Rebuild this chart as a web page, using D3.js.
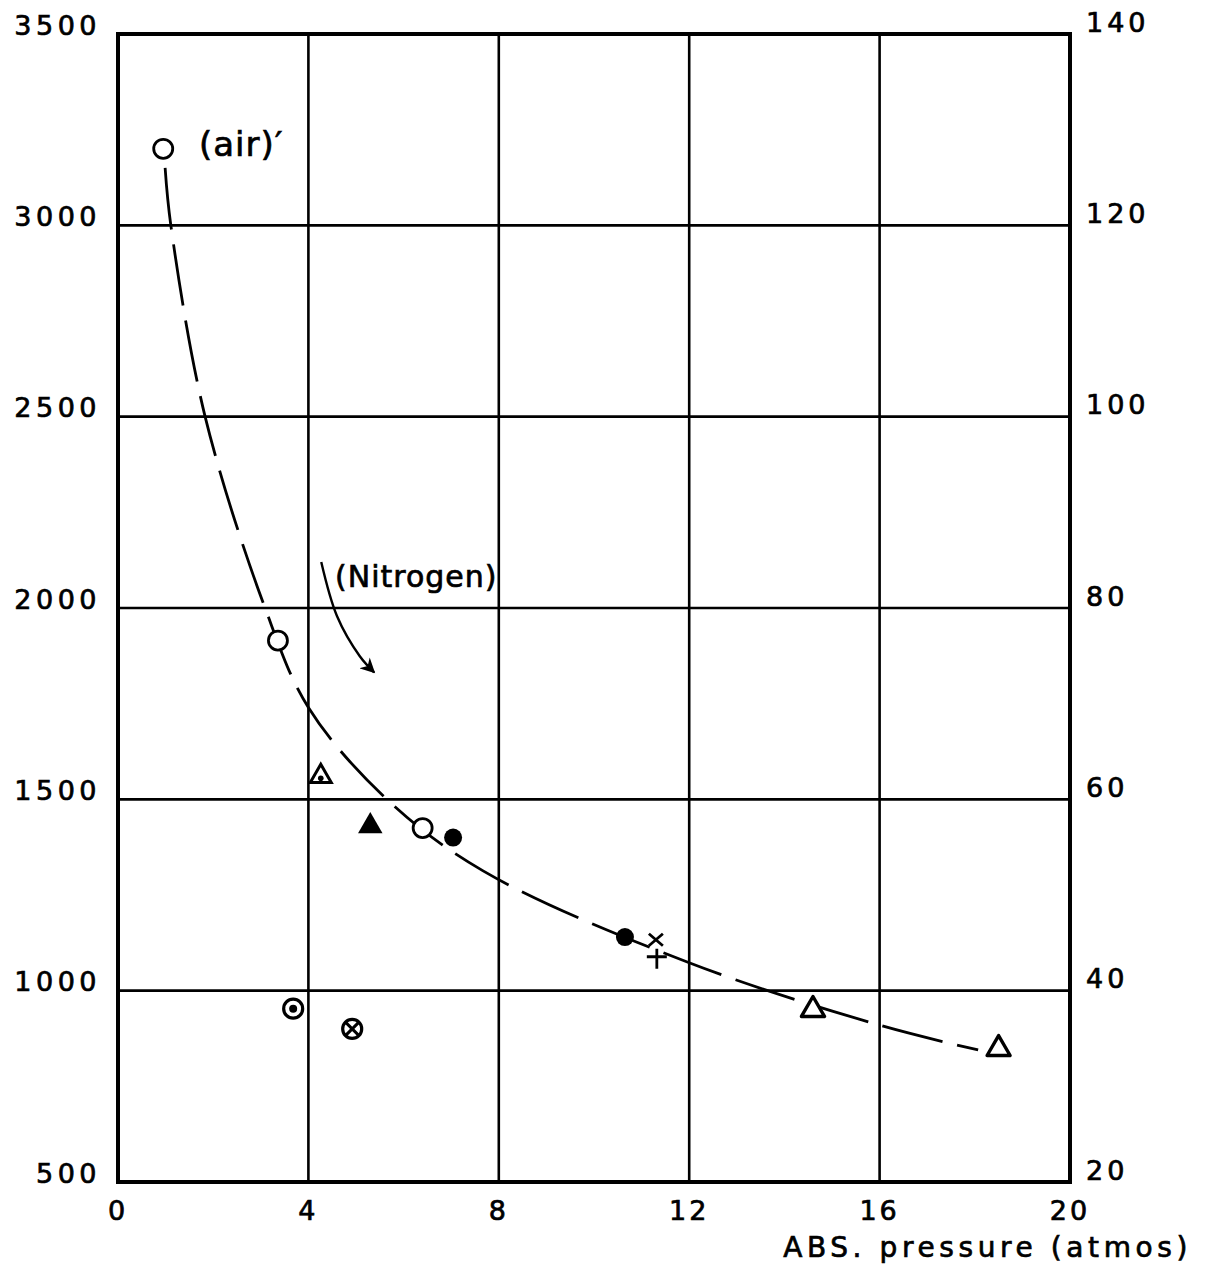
<!DOCTYPE html>
<html>
<head>
<meta charset="utf-8">
<script src="https://cdn.jsdelivr.net/npm/d3@7"></script>
<style>
  body { margin: 0; background: #fff; }
  text { font-family: "DejaVu Sans", sans-serif; fill: #000; stroke: #000; stroke-width: 0.7; }
</style>
</head>
<body>
<div id="chart"></div>
<script>
// data
const leftTicks = [500, 1000, 1500, 2000, 2500, 3000, 3500];
const rightTicks = [20, 40, 60, 80, 100, 120, 140];
const xTicks = [0, 4, 8, 12, 16, 20];

// air, open circles
const openCircleX = [0.95, 3.36, 6.4];
const openCircleY = [3200, 1915, 1425];
const filledCircleX = [7.04, 10.65];
const filledCircleY = [1400, 1140];
const openTriangleX = [14.6, 18.5];
const openTriangleY = [950, 848];
const filledTriangleX = [5.3];
const filledTriangleY = [1430];
const dotTriangleX = [4.26];
const dotTriangleY = [1560];
const crossX = [11.3];
const crossY = [1133];
const plusX = [11.32];
const plusY = [1086];
const dotCircleX = [3.68];
const dotCircleY = [953];
const crossCircleX = [4.92];
const crossCircleY = [900];

// dashed fitted curve
const curveX = [0.99, 1.11, 1.83, 3.09, 4.0, 5.65, 7.67, 12, 16, 18.07];
const curveY = [3150, 3000, 2500, 2000, 1740, 1500, 1313, 1073, 910, 845];

// nitrogen arrow
const arrowX = [4.27, 4.6, 5.08, 5.38];
const arrowY = [2120, 1979, 1874, 1832];

const width = 1205, height = 1268;
const margin = { top: 34, right: 135, bottom: 86, left: 118 };

const svg = d3.select("#chart").append("svg")
  .attr("width", width)
  .attr("height", height);

const x = d3.scaleLinear().domain([0, 20]).range([margin.left, width - margin.right]);
const y = d3.scaleLinear().domain([500, 3500]).range([height - margin.bottom, margin.top]);
const y2 = d3.scaleLinear().domain([20, 140]).range([height - margin.bottom, margin.top]);

// grid
svg.append("g").selectAll("line").data(xTicks.slice(1, -1)).enter().append("line")
  .attr("x1", d => x(d)).attr("x2", d => x(d))
  .attr("y1", y(3500)).attr("y2", y(500))
  .attr("stroke", "#000").attr("stroke-width", 2.6);
svg.append("g").selectAll("line").data(leftTicks.slice(1, -1)).enter().append("line")
  .attr("x1", x(0)).attr("x2", x(20))
  .attr("y1", d => y(d)).attr("y2", d => y(d))
  .attr("stroke", "#000").attr("stroke-width", 2.6);

// frame
svg.append("rect")
  .attr("x", x(0)).attr("y", y(3500))
  .attr("width", x(20) - x(0)).attr("height", y(500) - y(3500))
  .attr("fill", "none").attr("stroke", "#000").attr("stroke-width", 4);

// axis labels
svg.append("g").selectAll("text").data(leftTicks).enter().append("text")
  .attr("x", 101).attr("y", d => y(d) - 7)
  .attr("text-anchor", "end").attr("dominant-baseline", "middle")
  .attr("font-size", 27).attr("letter-spacing", 4.5)
  .text(d => d);
svg.append("g").selectAll("text").data(rightTicks).enter().append("text")
  .attr("x", 1086).attr("y", d => y2(d) - 10)
  .attr("dominant-baseline", "middle")
  .attr("font-size", 27).attr("letter-spacing", 4)
  .text(d => d);
svg.append("g").selectAll("text").data(xTicks).enter().append("text")
  .attr("x", d => x(d)).attr("y", 1212)
  .attr("text-anchor", "middle").attr("dominant-baseline", "middle")
  .attr("font-size", 27).attr("letter-spacing", 3)
  .text(d => d);
svg.append("text")
  .attr("x", 1192).attr("y", 1249)
  .attr("text-anchor", "end").attr("dominant-baseline", "middle")
  .attr("font-size", 28).attr("letter-spacing", 4.6)
  .text("ABS. pressure (atmos)");

// dashed curve
const line = d3.line().curve(d3.curveCatmullRom.alpha(0.5)).x(d => x(d[0])).y(d => y(d[1]));
svg.append("path")
  .datum(d3.zip(curveX, curveY))
  .attr("d", line)
  .attr("fill", "none").attr("stroke", "#000").attr("stroke-width", 2.8)
  .attr("stroke-dasharray", "62 15");

// annotations
svg.append("text")
  .attr("x", 199).attr("y", 146)
  .attr("dominant-baseline", "middle")
  .attr("font-size", 34).attr("letter-spacing", 1)
  .text("(air)\u2032");
svg.append("text")
  .attr("x", 335).attr("y", 578)
  .attr("dominant-baseline", "middle")
  .attr("font-size", 30).attr("letter-spacing", 1)
  .text("(Nitrogen)");

svg.append("defs").append("marker")
  .attr("id", "head").attr("viewBox", "0 0 10 10")
  .attr("refX", 9).attr("refY", 5)
  .attr("markerWidth", 22).attr("markerHeight", 15)
  .attr("markerUnits", "userSpaceOnUse")
  .attr("orient", "auto")
  .append("path").attr("d", "M0,0L10,5L0,10L3,5Z").attr("fill", "#000");
svg.append("path")
  .datum(d3.zip(arrowX, arrowY))
  .attr("d", d3.line().curve(d3.curveCatmullRom).x(d => x(d[0])).y(d => y(d[1])))
  .attr("fill", "none").attr("stroke", "#000").attr("stroke-width", 2.4)
  .attr("marker-end", "url(#head)");

// markers
const pts = (xs, ys) => d3.zip(xs, ys);

svg.append("g").selectAll("circle").data(pts(openCircleX, openCircleY)).enter().append("circle")
  .attr("cx", d => x(d[0])).attr("cy", d => y(d[1])).attr("r", 9.5)
  .attr("fill", "#fff").attr("stroke", "#000").attr("stroke-width", 2.8);

svg.append("g").selectAll("circle").data(pts(filledCircleX, filledCircleY)).enter().append("circle")
  .attr("cx", d => x(d[0])).attr("cy", d => y(d[1])).attr("r", 9)
  .attr("fill", "#000");

svg.append("g").selectAll("path").data(pts(openTriangleX, openTriangleY)).enter().append("path")
  .attr("transform", d => `translate(${x(d[0])},${y(d[1])})`)
  .attr("d", d3.symbol().type(d3.symbolTriangle).size(230))
  .attr("fill", "#fff").attr("stroke", "#000").attr("stroke-width", 3.4)
  .attr("stroke-linejoin", "round");

svg.append("g").selectAll("path").data(pts(filledTriangleX, filledTriangleY)).enter().append("path")
  .attr("transform", d => `translate(${x(d[0])},${y(d[1])})`)
  .attr("d", d3.symbol().type(d3.symbolTriangle).size(260)).attr("fill", "#000");

const dt = svg.append("g").selectAll("g").data(pts(dotTriangleX, dotTriangleY)).enter().append("g")
  .attr("transform", d => `translate(${x(d[0])},${y(d[1])})`);
dt.append("path").attr("d", d3.symbol().type(d3.symbolTriangle).size(190))
  .attr("fill", "#fff").attr("stroke", "#000").attr("stroke-width", 3);
dt.append("circle").attr("cy", 2).attr("r", 2.8).attr("fill", "#000");

svg.append("g").selectAll("path").data(pts(crossX, crossY)).enter().append("path")
  .attr("transform", d => `translate(${x(d[0])},${y(d[1])})`)
  .attr("d", "M-7,-6L7,6M7,-6L-7,6")
  .attr("stroke", "#000").attr("stroke-width", 2.8);

svg.append("g").selectAll("path").data(pts(plusX, plusY)).enter().append("path")
  .attr("transform", d => `translate(${x(d[0])},${y(d[1])})`)
  .attr("d", "M-10,-1L10,-1M0,-9L0,11")
  .attr("stroke", "#000").attr("stroke-width", 2.8);

const dc = svg.append("g").selectAll("g").data(pts(dotCircleX, dotCircleY)).enter().append("g")
  .attr("transform", d => `translate(${x(d[0])},${y(d[1])})`);
dc.append("circle").attr("r", 9.5).attr("fill", "#fff").attr("stroke", "#000").attr("stroke-width", 3.2);
dc.append("circle").attr("r", 4).attr("fill", "#000");

const cc = svg.append("g").selectAll("g").data(pts(crossCircleX, crossCircleY)).enter().append("g")
  .attr("transform", d => `translate(${x(d[0])},${y(d[1])})`);
cc.append("circle").attr("r", 9.5).attr("fill", "#fff").attr("stroke", "#000").attr("stroke-width", 3.2);
cc.append("path").attr("d", "M-6.5,-6.5L6.5,6.5M6.5,-6.5L-6.5,6.5")
  .attr("stroke", "#000").attr("stroke-width", 3);
</script>
</body>
</html>
